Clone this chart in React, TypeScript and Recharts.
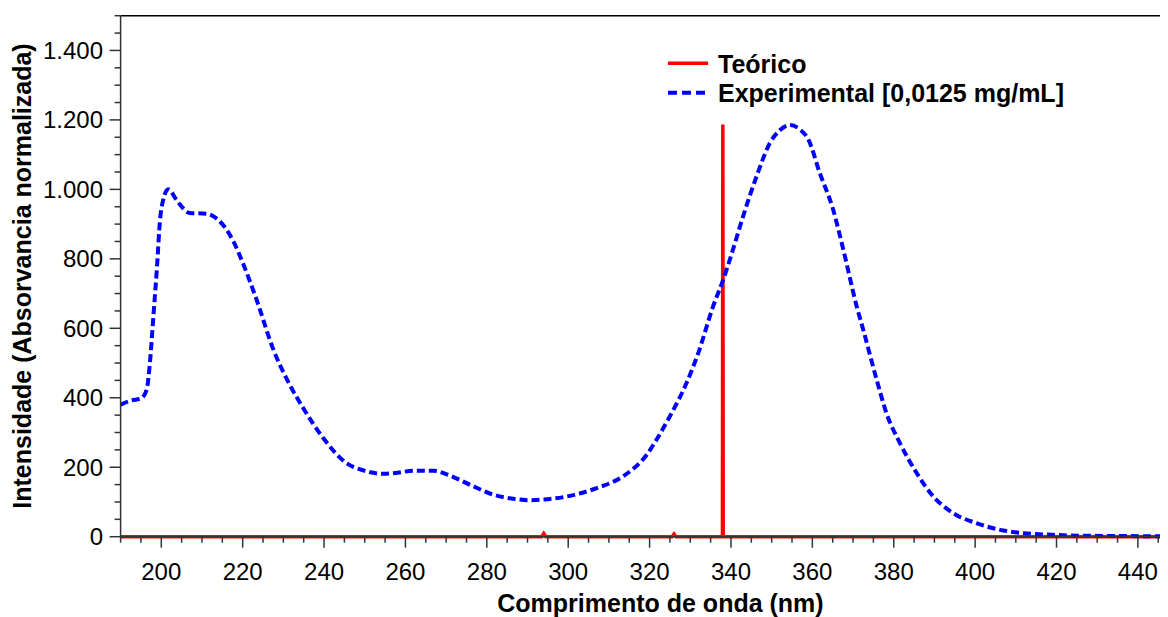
import React from 'react'
import { LineChart, Line, XAxis, YAxis, ReferenceLine, Legend } from 'recharts'

// espectro experimental
const expNm = [190, 192.5, 195, 196.4, 197.2, 198, 198.9, 199.7, 200.5, 201.7, 204, 207, 211, 213.6, 217.7, 220, 223.4, 227.5, 231, 234.9, 239.8, 245.5, 249.6, 254.5, 258, 261.9, 266.8, 270.9, 275.8, 281.6, 286, 290.6, 294, 298.8, 303, 307, 313.5, 319.3, 322, 325, 329.1, 332, 335.6, 338.1, 340.5, 343, 346.3, 349.6, 352, 354.5, 357, 359, 361.8, 365.1, 367.6, 370.9, 372.5, 375.8, 378.2, 381.5, 385.6, 389.7, 394.6, 400.3, 406.9, 412, 418, 425, 435, 447.4]
const expInt = [380, 392, 398, 423, 500, 625, 769, 913, 971, 1000, 965, 932, 930, 916, 851, 789, 683, 540, 450, 370, 284, 212, 191, 181, 184, 190, 190, 176, 150, 121, 110, 105, 107, 114, 125, 140, 174, 236, 285, 347, 443, 530, 663, 740, 827, 923, 1038, 1134, 1170, 1185, 1172, 1144, 1048, 942, 827, 663, 596, 452, 356, 270, 184, 116, 68, 39, 18, 10, 6, 3, 2, 1]

// espectro teórico (linhas)
const teoNm = [190, 293.5, 294, 294.5, 325.5, 326, 326.5, 337.9, 338, 338.1, 447.4]
const teoInt = [0, 0, 9, 0, 0, 8, 0, 0, 1187, 0, 0]

const xMajor = [200, 220, 240, 260, 280, 300, 320, 340, 360, 380, 400, 420, 440]
const yMajor = [0, 200, 400, 600, 800, 1000, 1200, 1400]
const xTicks = Array.from({ length: 52 }, (_, i) => 190 + i * 5)
const yTicks = Array.from({ length: 31 }, (_, i) => i * 50)

const expData = expNm.map((x, i) => ({ x, y: expInt[i] }))
const teoData = teoNm.map((x, i) => ({ x, y: teoInt[i] }))

const W = 1160, H = 609
const LEFT = 112.6, TOP = 7.7, BOTTOM = 528.7, BM = 9
const FONT = '"Liberation Sans", Arial, sans-serif'
const AX = '#333'

const fmtY = (v: number) => v >= 1000 ? `${Math.floor(v / 1000)}.${String(v % 1000).padStart(3, '0')}` : String(v)

const XTick = (p: any) => {
  const v = p.payload.value, major = xMajor.includes(v)
  return <g>
    <line x1={p.x} x2={p.x} y1={BOTTOM} y2={BOTTOM + (major ? 11 : 6)} stroke={AX} strokeWidth={1.5}/>
    {major && <text x={p.x} y={572} textAnchor="middle" fontSize={24} fontFamily={FONT} fill="#000">{v}</text>}
  </g>
}
const YTick = (p: any) => {
  const v = p.payload.value, major = yMajor.includes(v)
  return <g>
    <line x1={LEFT - (major ? 11 : 6)} x2={LEFT} y1={p.y} y2={p.y} stroke={AX} strokeWidth={1.5}/>
    {major && <text x={95} y={p.y} dy="0.35em" textAnchor="end" fontSize={24} fontFamily={FONT} fill="#000">{fmtY(v)}</text>}
  </g>
}

// legenda desenhada por cima, sem ocupar espaço no layout
const LegendBox = (props: any) => {
  const items = [...(props.payload ?? [])].sort((a: any, b: any) => (a.payload?.strokeDasharray ? 1 : 0) - (b.payload?.strokeDasharray ? 1 : 0))
  return <svg width={W} height={110} style={{ display: 'block', overflow: 'visible' }}>
    {items.map((it: any, i: number) => {
      const y = i === 0 ? 55.3 : 84.7
      const dashed = it.payload?.strokeDasharray
      return <g key={i}>
        <line x1={660} x2={700} y1={y} y2={y} stroke={it.color} strokeWidth={dashed ? 4 : 3.5} strokeDasharray={dashed ? '9 5' : undefined}/>
        <text x={710} y={y + 9.3} fontSize={25} fontWeight="bold" fontFamily={FONT} fill="#000">{it.value}</text>
      </g>
    })}
  </svg>
}

export default function App() {
  return (
    <div style={{ position: 'relative', width: W, height: H }}>
      <LineChart width={W} height={H} margin={{ top: TOP, right: 0, left: 0, bottom: BM }}>
        <XAxis dataKey="x" type="number" domain={[190, 447.4]} ticks={xTicks} interval={0}
          tick={XTick} tickLine={false} axisLine={{ stroke: AX, strokeWidth: 1.5 }} height={H - BM - BOTTOM}/>
        <YAxis type="number" domain={[0, 1500]} ticks={yTicks} interval={0}
          tick={YTick} tickLine={false} axisLine={{ stroke: AX, strokeWidth: 1.5 }} width={LEFT}/>
        <ReferenceLine y={1500} stroke="#000" strokeWidth={1.5}/>
        <Legend content={LegendBox} verticalAlign="top" wrapperStyle={{ position: 'absolute', left: 0, top: 0, width: 0, height: 0, overflow: 'visible' }}/>
        <Line data={teoData} dataKey="y" name="Teórico" type="linear" stroke="#ff0000" strokeWidth={3.5} dot={false} isAnimationActive={false}/>
        <Line data={expData} dataKey="y" name="Experimental [0,0125 mg/mL]" type="monotone" stroke="#0000ff" strokeWidth={4} strokeDasharray="8 4" dot={false} isAnimationActive={false}/>
      </LineChart>
      <svg width={W} height={H} style={{ position: 'absolute', left: 0, top: 0, pointerEvents: 'none' }}>
        <text x={652.5} y={604} textAnchor="middle" fontSize={25} fontWeight="bold" fontFamily={FONT} fill="#000">Comprimento de onda (nm)</text>
        <text transform="translate(23,268) rotate(-90)" textAnchor="middle" fontSize={25} fontWeight="bold" fontFamily={FONT} fill="#000">Intensidade (Absorvancia normalizada)</text>
      </svg>
    </div>
  )
}
